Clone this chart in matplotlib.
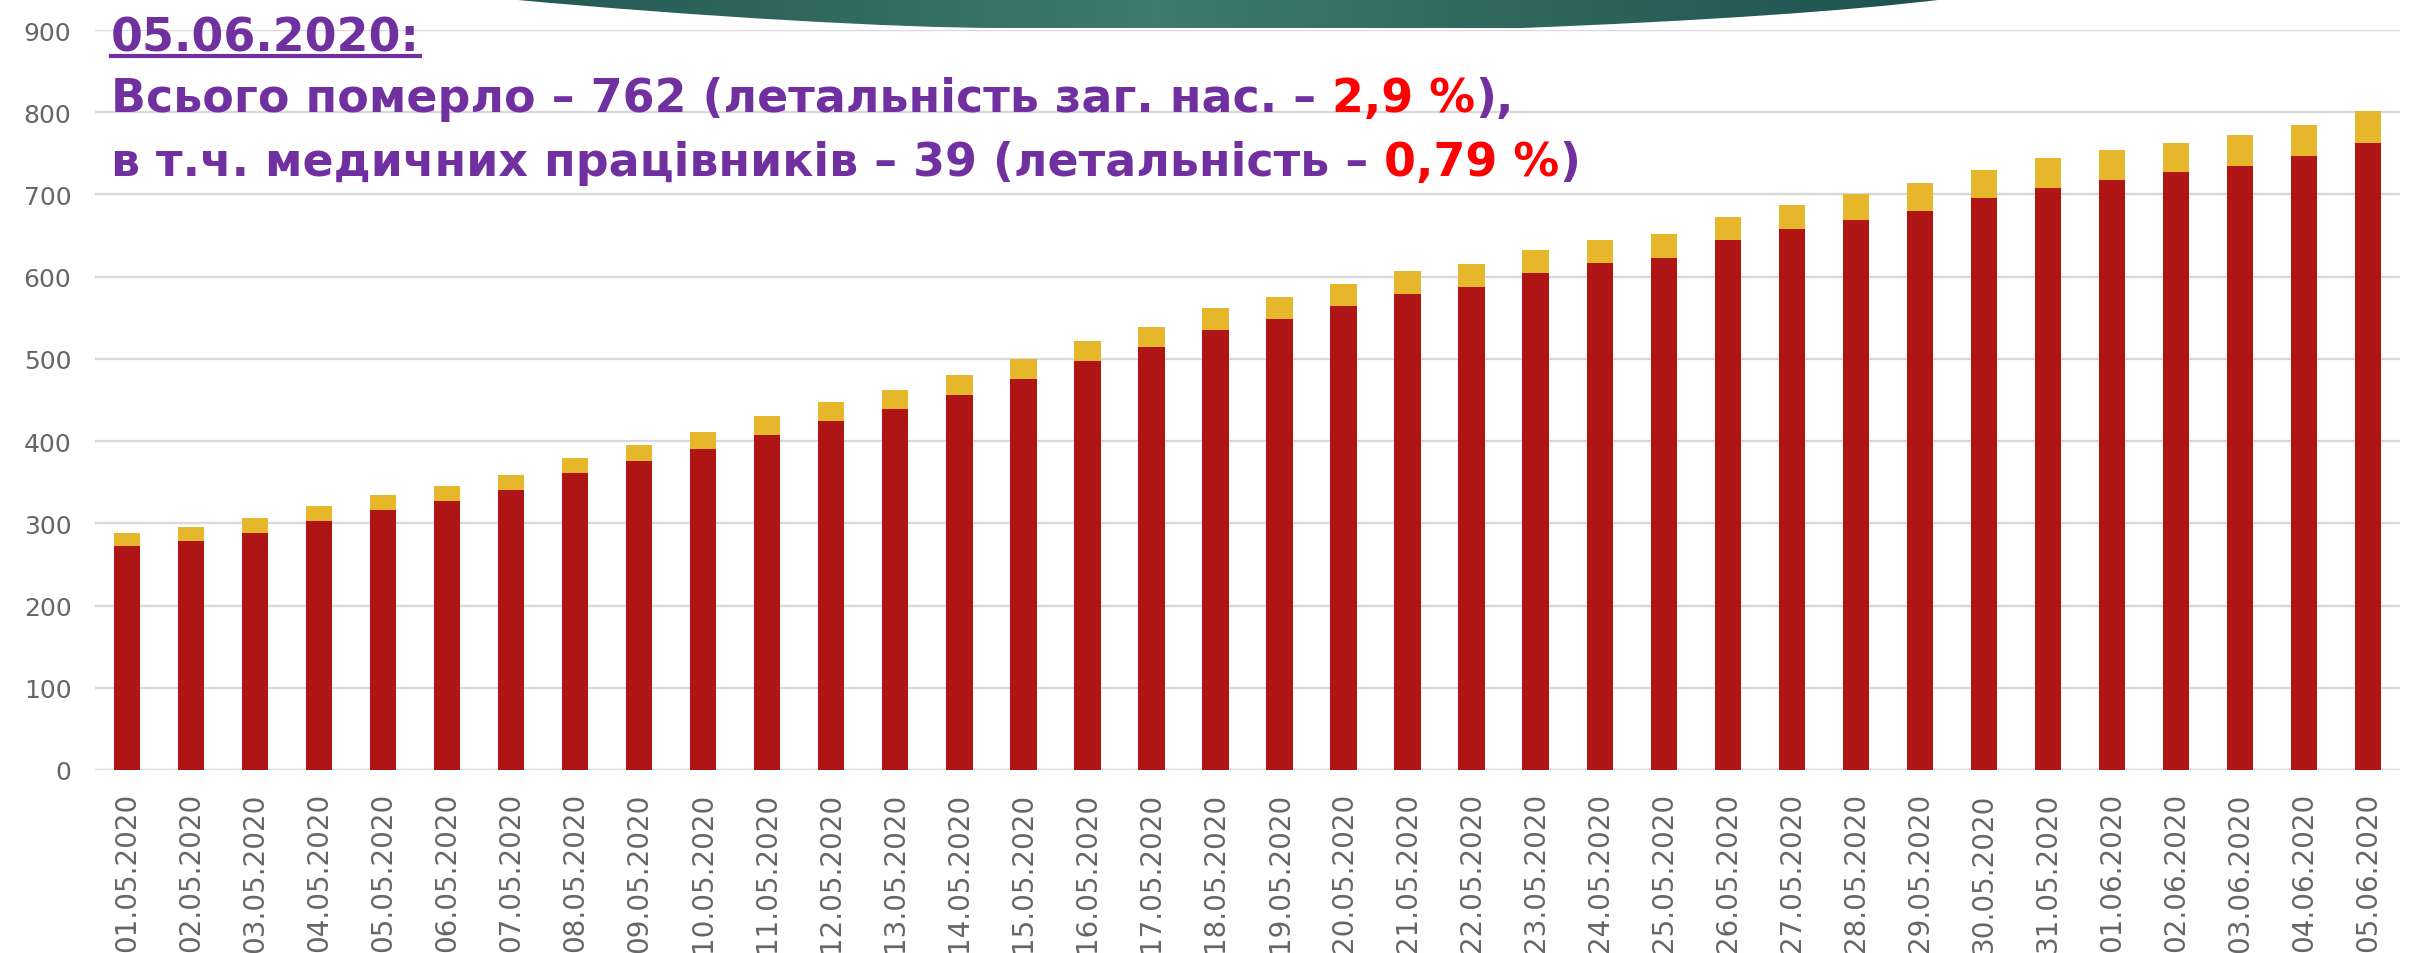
import numpy as np
import matplotlib
matplotlib.use('Agg')
import matplotlib.pyplot as plt
from matplotlib.path import Path
from matplotlib.patches import PathPatch

# -------------------------------
# Data
# -------------------------------
dates = ['01.05.2020', '02.05.2020', '03.05.2020', '04.05.2020', '05.05.2020', '06.05.2020',
         '07.05.2020', '08.05.2020', '09.05.2020', '10.05.2020', '11.05.2020', '12.05.2020',
         '13.05.2020', '14.05.2020', '15.05.2020', '16.05.2020', '17.05.2020', '18.05.2020',
         '19.05.2020', '20.05.2020', '21.05.2020', '22.05.2020', '23.05.2020', '24.05.2020',
         '25.05.2020', '26.05.2020', '27.05.2020', '28.05.2020', '29.05.2020', '30.05.2020',
         '31.05.2020', '01.06.2020', '02.06.2020', '03.06.2020', '04.06.2020', '05.06.2020']
total_deaths = [272, 279, 288, 303, 316, 327, 340, 361, 376, 391, 408, 425,
                439, 456, 476, 497, 514, 535, 548, 564, 579, 588, 605, 617,
                623, 644, 658, 669, 680, 696, 708, 718, 727, 735, 747, 762]
medic_deaths = [16, 17, 18, 18, 18, 18, 19, 19, 19, 20, 22, 23,
                23, 24, 24, 25, 25, 27, 27, 27, 28, 28, 28, 28,
                29, 29, 29, 31, 34, 34, 36, 36, 36, 37, 38, 39]
y_ticks = [0, 100, 200, 300, 400, 500, 600, 700, 800, 900]

# -------------------------------
# Style
# -------------------------------
RED = '#B01515'
YELLOW = '#E6B72A'
PURPLE = '#7030A0'
GRID = '#D9D9D9'
TICK = '#666666'
plt.rcParams['font.family'] = ['DejaVu Sans']

W, H = 2409, 954
fig = plt.figure(figsize=(W / 100, H / 100), dpi=100)

# -------------------------------
# Bars
# -------------------------------
ax = fig.add_axes([95 / W, 1 - 771 / H, (2400 - 95) / W, (771 - 31) / H])
x = np.arange(len(dates))
ax.bar(x, total_deaths, width=0.41, color=RED, zorder=3)
ax.bar(x, medic_deaths, width=0.41, bottom=total_deaths, color=YELLOW, zorder=3)
ax.set_xlim(-0.5, len(dates) - 0.5)
ax.set_ylim(0, 900)
ax.set_yticks(y_ticks)
ax.set_xticks(x)
ax.set_xticklabels(dates, rotation=90, fontsize=20, color=TICK)
ax.tick_params(axis='y', length=0, pad=17, labelsize=18, labelcolor=TICK)
ax.tick_params(axis='x', length=0, pad=16)
ax.yaxis.grid(True, color=GRID, lw=1.7, zorder=0)
ax.set_axisbelow(True)
for s in ax.spines.values():
    s.set_visible(False)
ax.patch.set_alpha(0)

# -------------------------------
# Decorative swoosh at the top
# -------------------------------
deco = fig.add_axes([0, 0, 1, 1], zorder=-1)
deco.set_xlim(0, W)
deco.set_ylim(H, 0)
deco.axis('off')
verts = [(507, 0), (700, 18), (900, 29), (1000, 29),
         (1522, 29),
         (1700, 22), (1850, 12), (1946, 0),
         (507, 0)]
codes = [Path.MOVETO, Path.CURVE4, Path.CURVE4, Path.CURVE4,
         Path.LINETO,
         Path.CURVE4, Path.CURVE4, Path.CURVE4,
         Path.CLOSEPOLY]
swoosh = PathPatch(Path(verts, codes), facecolor='none', edgecolor='none')
deco.add_patch(swoosh)
grad = np.linspace(0, 1, 256)
grad = 1 - np.abs(grad - 0.45) * 1.6
img = deco.imshow(np.vstack([grad, grad]), extent=[507, 1946, 30, 0], aspect='auto',
                  cmap=matplotlib.colors.LinearSegmentedColormap.from_list('g', ['#1E514F', '#3E7A6E']))
img.set_clip_path(swoosh)

# -------------------------------
# Title text (mixed colours)
# -------------------------------
fs = 33
renderer = fig.canvas.get_renderer()


def put_line(pieces, x0, y0):
    xp = x0
    texts = []
    for s, c in pieces:
        t = fig.text(xp / W, 1 - y0 / H, s, color=c, fontsize=fs, fontweight='bold', va='baseline', ha='left')
        bb = t.get_window_extent(renderer)
        xp += bb.width
        texts.append(t)
    return texts


t0 = put_line([('05.06.2020:', PURPLE)], 111, 51)
bb0 = t0[0].get_window_extent(renderer)
fig.add_artist(plt.Line2D([111 / W, (111 + bb0.width) / W], [1 - 57 / H, 1 - 57 / H], color=PURPLE, lw=3))
put_line([('Всього померло – 762 (летальність заг. нас. – ', PURPLE), ('2,9 %', 'red'), ('),', PURPLE)], 111, 112)
put_line([('в т.ч. медичних працівників – 39 (летальність – ', PURPLE), ('0,79 %', 'red'), (')', PURPLE)], 111, 176)

fig.savefig('out.png', dpi=100)
